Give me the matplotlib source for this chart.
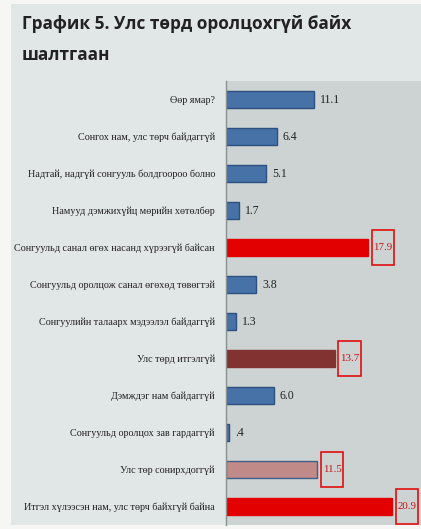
import matplotlib.pyplot as plt
from matplotlib.patches import Rectangle

reasons = [
    'Өөр ямар?',
    'Сонгох нам, улс төрч байдаггүй',
    'Надтай, надгүй сонгууль болдгоороо болно',
    'Намууд дэмжихүйц мөрийн хөтөлбөр',
    'Сонгуульд санал өгөх насанд хүрээгүй байсан',
    'Сонгуульд оролцож санал өгөхөд төвөгтэй',
    'Сонгуулийн талаарх мэдээлэл байдаггүй',
    'Улс төрд итгэлгүй',
    'Дэмждэг нам байдаггүй',
    'Сонгуульд оролцох зав гардаггүй',
    'Улс төр сонирхдоггүй',
    'Итгэл хүлээсэн нам, улс төрч байхгүй байна',
]
values = [11.1, 6.4, 5.1, 1.7, 17.9, 3.8, 1.3, 13.7, 6.0, 0.4, 11.5, 20.9]
bar_colors = ['#4672a8', '#4672a8', '#4672a8', '#4672a8', '#e30000', '#4672a8',
              '#4672a8', '#833232', '#4672a8', '#4672a8', '#c08a88', '#e30000']
edge_colors = ['#2c4f80', '#2c4f80', '#2c4f80', '#2c4f80', '#e30000', '#2c4f80',
               '#2c4f80', '#833232', '#2c4f80', '#2c4f80', '#3f5f8c', '#e30000']
boxed = [False, False, False, False, True, False, False, True, False, False, True, True]

fig = plt.figure(figsize=(4.21, 5.29), dpi=100)
fig.patch.set_facecolor('#f6f7f4')
fig.patches.append(Rectangle((11 / 421, 4 / 529), 410 / 421, 521 / 529,
                             transform=fig.transFigure, facecolor='#e1e6e6',
                             edgecolor='none', zorder=-10))

fig.text(22 / 421, 1 - 24 / 529, 'График 5. Улс төрд оролцохгүй байх',
         fontsize=12.4, fontweight='bold', family='Open Sans', color='#222222',
         va='center', ha='left')
fig.text(22 / 421, 1 - 55 / 529, 'шалтгаан',
         fontsize=12.4, fontweight='bold', family='Open Sans', color='#222222',
         va='center', ha='left')

ax = fig.add_axes([226 / 421, 4 / 529, 195 / 421, 444 / 529])
ax.set_facecolor('#cdd3d3')
y = list(range(len(values)))
ax.barh(y, values, height=0.44, color=bar_colors, edgecolor=edge_colors, linewidth=1)
ax.set_xlim(0, 24.56)
ax.set_ylim(11.5, -0.5)

for i, v in enumerate(values):
    txt = f'{v:.1f}'.lstrip('0')
    if boxed[i]:
        x0 = v + 0.45
        ax.add_patch(Rectangle((x0, i - 0.47), 2.8, 0.94, facecolor='none',
                               edgecolor='#e01010', linewidth=1.2, clip_on=False))
        ax.text(x0 + 1.4, i, txt, ha='center', va='center', color='#c81010',
                family='Liberation Serif', fontsize=7.8)
    else:
        ax.text(v + 0.75, i, txt, ha='left', va='center', color='#222222',
                family='Liberation Serif', fontsize=8.5)

ax.set_yticks(y)
ax.set_yticklabels(reasons, family='Liberation Serif', fontsize=7.3, color='#222222')
ax.tick_params(axis='y', length=0, pad=8)
ax.set_xticks([])
for s in ['top', 'right', 'bottom']:
    ax.spines[s].set_visible(False)
ax.spines['left'].set_color('#8a8f8f')
ax.spines['left'].set_linewidth(1)

fig.savefig('out.png', dpi=100, facecolor=fig.get_facecolor())
